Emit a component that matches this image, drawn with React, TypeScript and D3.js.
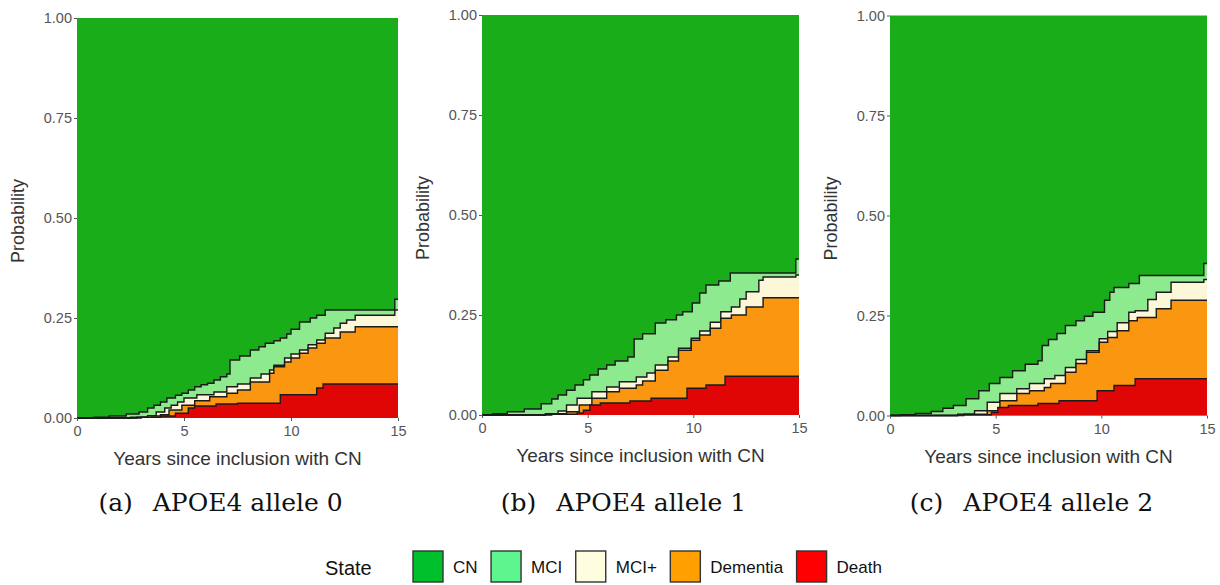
import React, { useEffect, useRef } from 'react';
import * as d3 from 'd3';

type Step = [number, number];

// cumulative upper edges of each state (years, probability)
// APOE4 allele 0
const a0Mci: Step[] = [[0, 0], [0.8, 0.002], [1.5, 0.005], [2.3, 0.01], [2.9, 0.015], [3.3, 0.025], [3.6, 0.032], [3.9, 0.04], [4.2, 0.05], [4.6, 0.057], [4.9, 0.062], [5.2, 0.07], [5.5, 0.078], [5.8, 0.083], [6.1, 0.087], [6.4, 0.095], [6.7, 0.103], [7.0, 0.11], [7.15, 0.145], [7.6, 0.155], [8.1, 0.17], [8.5, 0.178], [8.8, 0.187], [9.2, 0.193], [9.5, 0.2], [9.8, 0.21], [10.0, 0.222], [10.4, 0.24], [10.9, 0.25], [11.2, 0.257], [11.6, 0.27], [14.85, 0.297], [15, 0.297]];
const a0MciPlus: Step[] = [[0, 0], [2.5, 0.002], [3.3, 0.006], [3.7, 0.015], [4.1, 0.025], [4.4, 0.032], [4.7, 0.04], [5.0, 0.05], [5.6, 0.058], [6.4, 0.065], [7.0, 0.078], [7.5, 0.085], [8.1, 0.1], [8.6, 0.11], [9.0, 0.12], [9.2, 0.132], [9.7, 0.15], [10.0, 0.16], [10.4, 0.17], [10.8, 0.183], [11.2, 0.195], [11.6, 0.212], [12.0, 0.225], [12.3, 0.237], [12.6, 0.245], [13.0, 0.257], [14.85, 0.27], [15, 0.27]];
const a0Dementia: Step[] = [[0, 0], [2.8, 0.002], [3.5, 0.005], [3.9, 0.008], [4.3, 0.02], [4.9, 0.032], [5.5, 0.043], [6.2, 0.053], [7.0, 0.062], [7.5, 0.07], [8.1, 0.09], [9.0, 0.112], [9.2, 0.128], [9.7, 0.14], [10.0, 0.15], [10.4, 0.162], [10.8, 0.175], [11.2, 0.187], [11.6, 0.2], [12.3, 0.215], [13.0, 0.228], [15, 0.228]];
const a0Death: Step[] = [[0, 0], [3.0, 0.002], [3.9, 0.005], [4.6, 0.012], [5.2, 0.025], [5.5, 0.03], [6.5, 0.035], [7.5, 0.037], [9.5, 0.058], [11.2, 0.075], [11.5, 0.085], [15, 0.085]];

// APOE4 allele 1
const a1Mci: Step[] = [[0, 0], [0.5, 0.003], [1.2, 0.008], [2.0, 0.015], [2.8, 0.028], [3.3, 0.04], [3.6, 0.05], [4.0, 0.062], [4.4, 0.075], [4.8, 0.088], [5.1, 0.1], [5.5, 0.115], [5.9, 0.125], [6.3, 0.135], [6.9, 0.145], [7.2, 0.19], [7.6, 0.203], [8.2, 0.23], [8.7, 0.238], [9.2, 0.25], [9.5, 0.258], [9.95, 0.28], [10.3, 0.305], [10.6, 0.325], [11.2, 0.335], [11.75, 0.355], [14.85, 0.39], [15, 0.39]];
const a1MciPlus: Step[] = [[0, 0], [3.0, 0.003], [3.6, 0.01], [4.0, 0.025], [4.5, 0.042], [5.2, 0.058], [5.9, 0.07], [6.5, 0.083], [7.3, 0.095], [7.8, 0.105], [8.2, 0.125], [8.8, 0.145], [9.3, 0.167], [9.9, 0.192], [10.3, 0.21], [10.8, 0.232], [11.3, 0.258], [11.8, 0.27], [12.2, 0.29], [12.5, 0.308], [13.1, 0.337], [13.3, 0.345], [14.85, 0.35], [15, 0.35]];
const a1Dementia: Step[] = [[0, 0], [3.3, 0.003], [4.0, 0.008], [4.6, 0.025], [5.2, 0.042], [5.9, 0.058], [6.5, 0.067], [7.3, 0.075], [7.6, 0.085], [8.2, 0.112], [8.8, 0.135], [9.3, 0.162], [9.9, 0.187], [10.3, 0.2], [10.8, 0.217], [11.3, 0.242], [11.8, 0.25], [12.5, 0.27], [13.3, 0.293], [15, 0.293]];
const a1Death: Step[] = [[0, 0], [3.0, 0.002], [4.5, 0.005], [4.8, 0.012], [5.1, 0.025], [5.6, 0.03], [7.0, 0.035], [8.0, 0.042], [9.7, 0.067], [10.6, 0.075], [11.5, 0.097], [15, 0.097]];

// APOE4 allele 2
const a2Mci: Step[] = [[0, 0], [0.5, 0.002], [1.2, 0.005], [1.95, 0.01], [2.5, 0.018], [3.0, 0.025], [3.6, 0.042], [4.2, 0.062], [4.7, 0.08], [5.2, 0.095], [5.8, 0.112], [6.4, 0.128], [7.0, 0.137], [7.2, 0.175], [7.5, 0.19], [7.9, 0.205], [8.3, 0.225], [8.8, 0.237], [9.2, 0.248], [9.6, 0.258], [10.15, 0.288], [10.4, 0.308], [10.6, 0.32], [11.3, 0.33], [11.8, 0.35], [14.85, 0.38], [15, 0.38]];
const a2MciPlus: Step[] = [[0, 0], [3.2, 0.003], [4.0, 0.012], [4.6, 0.033], [5.2, 0.055], [6.0, 0.067], [6.6, 0.08], [7.3, 0.092], [7.8, 0.1], [8.3, 0.12], [8.8, 0.14], [9.3, 0.162], [9.9, 0.192], [10.3, 0.21], [10.75, 0.232], [11.3, 0.258], [11.6, 0.262], [12.2, 0.29], [12.6, 0.308], [13.3, 0.333], [14.85, 0.34], [15, 0.34]];
const a2Dementia: Step[] = [[0, 0], [3.5, 0.003], [4.6, 0.012], [5.2, 0.037], [6.0, 0.055], [6.6, 0.062], [7.3, 0.07], [7.6, 0.08], [8.3, 0.108], [8.8, 0.13], [9.3, 0.158], [9.9, 0.183], [10.3, 0.195], [10.75, 0.212], [11.3, 0.237], [11.7, 0.245], [12.6, 0.267], [13.3, 0.288], [15, 0.288]];
const a2Death: Step[] = [[0, 0], [3.2, 0.002], [4.8, 0.008], [5.1, 0.02], [5.6, 0.025], [7.0, 0.03], [8.0, 0.037], [9.8, 0.062], [10.6, 0.075], [11.6, 0.092], [15, 0.092]];

const cnFull: Step[] = [[0, 1], [15, 1]];

const states = ['CN', 'MCI', 'MCI+', 'Dementia', 'Death'];
const plotColors = ['#19ad19', '#8eea8e', '#fdf7da', '#fa9610', '#e00606'];
const legendColors = ['#00c12b', '#5ef58f', '#fffde0', '#ffa000', '#ff0000'];
const yTicks = [0, 0.25, 0.5, 0.75, 1];
const xTicks = [0, 5, 10, 15];
const tags = ['(a)', '(b)', '(c)'];
const captions = ['APOE4 allele 0', 'APOE4 allele 1', 'APOE4 allele 2'];

const panelData: Step[][][] = [
  [cnFull, a0Mci, a0MciPlus, a0Dementia, a0Death],
  [cnFull, a1Mci, a1MciPlus, a1Dementia, a1Death],
  [cnFull, a2Mci, a2MciPlus, a2Dementia, a2Death],
];

const frames = [
  { left: 77, right: 398, top: 18 },
  { left: 482, right: 799, top: 15 },
  { left: 890, right: 1207, top: 15.5 },
];
const plotH = 400;

const App: React.FC = () => {
  const svgRef = useRef<SVGSVGElement>(null);

  useEffect(() => {
    if (!svgRef.current) return;
    const svg = d3.select(svgRef.current);
    svg.selectAll('*').remove();

    const sans = 'Liberation Sans, Arial, Helvetica, sans-serif';

    frames.forEach((f, i) => {
      const x = d3.scaleLinear().domain([0, 15]).range([f.left, f.right]);
      const y = d3.scaleLinear().domain([0, 1]).range([f.top + plotH, f.top]);
      const g = svg.append('g');

      const area = d3.area<Step>()
        .curve(d3.curveStepAfter)
        .x(d => x(d[0]))
        .y0(y(0))
        .y1(d => y(d[1]));
      const line = d3.line<Step>()
        .curve(d3.curveStepAfter)
        .x(d => x(d[0]))
        .y(d => y(d[1]));

      panelData[i].forEach((edge, k) => {
        g.append('path')
          .attr('d', area(edge) as string)
          .attr('fill', plotColors[k]);
        if (k > 0) {
          g.append('path')
            .attr('d', line(edge) as string)
            .attr('fill', 'none')
            .attr('stroke', '#1a1a1a')
            .attr('stroke-width', 1.4);
        }
      });

      // axes
      const ya = g.append('g')
        .attr('transform', `translate(${f.left},0)`)
        .call(d3.axisLeft(y).tickValues(yTicks).tickSize(3).tickPadding(2).tickFormat(d3.format('.2f')));
      const xa = g.append('g')
        .attr('transform', `translate(0,${f.top + plotH})`)
        .call(d3.axisBottom(x).tickValues(xTicks).tickSize(3).tickPadding(5).tickFormat(d3.format('d')));
      [ya, xa].forEach(a => {
        a.select('.domain').remove();
        a.selectAll('line').attr('stroke', '#555');
        a.selectAll('text').attr('fill', '#555').style('font-size', '14.5px').style('font-family', sans);
      });

      // axis titles
      g.append('text')
        .attr('x', (f.left + f.right) / 2)
        .attr('y', f.top + plotH + 47)
        .attr('text-anchor', 'middle')
        .attr('fill', '#333')
        .style('font-size', '19px')
        .style('font-family', sans)
        .text('Years since inclusion with CN');
      g.append('text')
        .attr('transform', `translate(${f.left - 59},${f.top + plotH / 2 + 3}) rotate(-90)`)
        .attr('dy', '0.35em')
        .attr('text-anchor', 'middle')
        .attr('fill', '#333')
        .style('font-size', '18px')
        .style('font-family', sans)
        .text('Probability');

      // sub-caption
      const cx = (f.left + f.right) / 2 - 17;
      const cap = g.append('g').attr('transform', `translate(${cx},511)`);
      const t1 = cap.append('text')
        .style('font-size', '25px')
        .style('font-family', 'DejaVu Serif, serif')
        .attr('fill', '#111')
        .text(tags[i]);
      const t2 = cap.append('text')
        .style('font-size', '25px')
        .style('font-family', 'DejaVu Serif, serif')
        .attr('fill', '#111')
        .text(captions[i]);
      const w1 = (t1.node() as SVGTextElement).getComputedTextLength();
      const w2 = (t2.node() as SVGTextElement).getComputedTextLength();
      const gap = 20;
      const total = w1 + gap + w2;
      t1.attr('x', -total / 2);
      t2.attr('x', -total / 2 + w1 + gap);
    });

    // legend
    const lg = svg.append('g');
    lg.append('text')
      .attr('x', 325)
      .attr('y', 575)
      .style('font-size', '20px')
      .style('font-family', sans)
      .attr('fill', '#111')
      .text('State');
    let lx = 413;
    states.forEach((s, k) => {
      lg.append('rect')
        .attr('x', lx)
        .attr('y', 551)
        .attr('width', 30)
        .attr('height', 31)
        .attr('fill', legendColors[k])
        .attr('stroke', '#333')
        .attr('stroke-width', 1.4);
      const t = lg.append('text')
        .attr('x', lx + 40)
        .attr('y', 573)
        .style('font-size', '17px')
        .style('font-family', sans)
        .attr('fill', '#111')
        .text(s);
      lx += 40 + (t.node() as SVGTextElement).getComputedTextLength() + 13.5;
    });
  }, []);

  return (
    <div style={{ position: 'absolute', left: 0, top: 0 }}>
      <svg ref={svgRef} width={1220} height={585} style={{ display: 'block', background: '#fff' }} />
    </div>
  );
};

export default App;
